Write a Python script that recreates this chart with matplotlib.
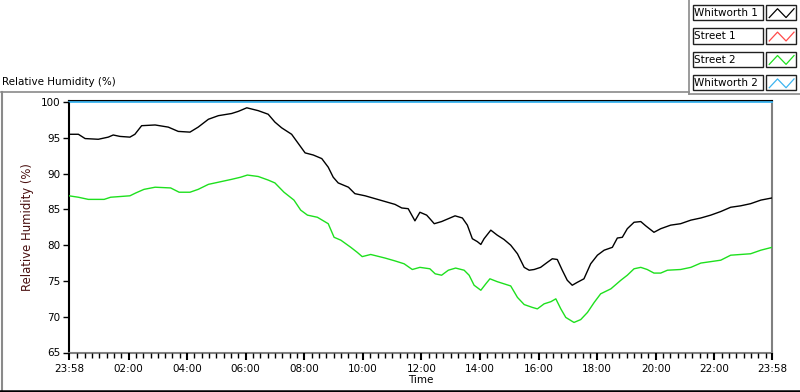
#!/usr/bin/env python3
"""Relative humidity chart (LabVIEW-style waveform chart) rebuilt in matplotlib."""

import matplotlib
matplotlib.use("Agg")
import matplotlib.pyplot as plt
from matplotlib.patches import Rectangle
from matplotlib.lines import Line2D

# hours elapsed since the 23:58 start of the record
whitworth1_t = [0.00, 0.32, 0.55, 1.00, 1.34, 1.51, 1.74, 2.08, 2.25, 2.48, 2.94, 3.39,
                3.73, 4.13, 4.41, 4.76, 5.10, 5.55, 5.78, 6.07, 6.46, 6.80, 7.03, 7.26,
                7.60, 7.83, 8.06, 8.34, 8.63, 8.85, 9.02, 9.19, 9.54, 9.76, 10.11, 10.45,
                10.79, 11.13, 11.36, 11.58, 11.81, 11.98, 12.21, 12.32, 12.47, 12.72,
                12.95, 13.18, 13.43, 13.60, 13.77, 13.94, 14.06, 14.17, 14.40, 14.62,
                14.85, 15.08, 15.31, 15.54, 15.71, 15.88, 16.10, 16.33, 16.50, 16.67,
                16.84, 17.01, 17.18, 17.35, 17.58, 17.81, 18.04, 18.27, 18.55, 18.72,
                18.89, 19.06, 19.29, 19.52, 19.69, 19.97, 20.20, 20.54, 20.88, 21.23,
                21.57, 21.91, 22.25, 22.59, 22.93, 23.27, 23.62, 24.00]
whitworth1_rh = [95.5, 95.5, 94.9, 94.8, 95.1, 95.4, 95.2, 95.1, 95.5, 96.7, 96.8, 96.5,
                 95.9, 95.8, 96.5, 97.6, 98.1, 98.4, 98.7, 99.2, 98.8, 98.3, 97.2, 96.4,
                 95.5, 94.2, 92.9, 92.6, 92.1, 90.9, 89.5, 88.7, 88.1, 87.2, 86.9, 86.5,
                 86.1, 85.7, 85.2, 85.1, 83.4, 84.6, 84.2, 83.7, 83.0, 83.3,
                 83.7, 84.1, 83.8, 82.8, 80.9, 80.5, 80.1, 80.9, 82.1, 81.4,
                 80.8, 80.0, 78.8, 76.9, 76.5, 76.6, 76.9, 77.6, 78.1, 78.0,
                 76.5, 75.1, 74.4, 74.8, 75.3, 77.4, 78.6, 79.3, 79.7, 81.0,
                 81.1, 82.3, 83.2, 83.3, 82.7, 81.8, 82.3, 82.8, 83.0, 83.5,
                 83.8, 84.2, 84.7, 85.3, 85.5, 85.8, 86.3, 86.6]

street2_t = [0.00, 0.32, 0.66, 1.20, 1.42, 2.08, 2.28, 2.56, 2.94, 3.47, 3.76, 4.13,
             4.41, 4.76, 5.10, 5.55, 5.86, 6.09, 6.46, 6.80, 7.03, 7.34, 7.68, 7.91,
             8.14, 8.48, 8.85, 9.05, 9.28, 9.62, 9.84, 10.01, 10.30, 10.79, 11.13,
             11.44, 11.72, 11.98, 12.32, 12.50, 12.72, 12.95, 13.20, 13.49, 13.66,
             13.83, 14.06, 14.23, 14.37, 14.62, 14.85, 15.08, 15.31, 15.54, 15.82,
             15.99, 16.22, 16.45, 16.62, 16.79, 16.96, 17.24, 17.47, 17.70, 17.93,
             18.15, 18.50, 18.84, 19.06, 19.29, 19.52, 19.74, 19.97, 20.20, 20.43,
             20.88, 21.23, 21.57, 21.91, 22.25, 22.59, 22.93, 23.27, 23.62, 24.00]
street2_rh = [86.9, 86.7, 86.4, 86.4, 86.7, 86.9, 87.3, 87.8, 88.1, 88.0, 87.4, 87.4,
              87.8, 88.5, 88.8, 89.2, 89.5, 89.8, 89.6, 89.1, 88.7, 87.4, 86.3, 84.9,
              84.2, 83.9, 83.0, 81.1, 80.7, 79.7, 79.0, 78.4, 78.7, 78.2, 77.8,
              77.4, 76.6, 76.9, 76.7, 76.0, 75.8, 76.5, 76.8, 76.5, 75.8,
              74.4, 73.7, 74.6, 75.3, 74.9, 74.6, 74.3, 72.7, 71.7, 71.3,
              71.1, 71.8, 72.1, 72.5, 71.1, 69.9, 69.2, 69.6, 70.6, 72.0,
              73.2, 73.9, 75.1, 75.8, 76.7, 76.9, 76.6, 76.1, 76.1, 76.5,
              76.6, 76.9, 77.5, 77.7, 77.9, 78.6, 78.7, 78.8, 79.3, 79.7]

whitworth2_t = [0.0, 6.0, 12.0, 18.0, 24.0]
whitworth2_rh = [100.0, 100.0, 100.0, 100.0, 100.0]

legend_names = ["Whitworth 1", "Street 1", "Street 2", "Whitworth 2"]
legend_colors = ["#000000", "#ff4a4a", "#1ee01e", "#3cb4f0"]

x_tick_labels = ["23:58", "02:00", "04:00", "06:00", "08:00", "10:00", "12:00",
                 "14:00", "16:00", "18:00", "20:00", "22:00", "23:58"]
y_ticks = [65, 70, 75, 80, 85, 90, 95, 100]

FONT = "DejaVu Sans"
FS = 7.5


def main() -> None:
    plt.rcParams.update({"font.family": FONT, "font.size": FS})
    fig = plt.figure(figsize=(8.0, 3.92), dpi=100)

    ax = fig.add_axes([69 / 800, 1 - 352.5 / 392, 703 / 800, 251.5 / 392])
    ax.plot(whitworth1_t, whitworth1_rh, color=legend_colors[0], lw=1.0)
    ax.plot(street2_t, street2_rh, color=legend_colors[2], lw=1.0)
    ax.plot(whitworth2_t, whitworth2_rh, color=legend_colors[3], lw=1.3, clip_on=False, zorder=1)

    ax.set_xlim(0, 24)
    ax.set_ylim(65, 100.15)

    offset = 2 / 60
    major = [0] + [h + offset for h in range(2, 24, 2)] + [24]
    ax.set_xticks(major)
    ax.set_xticklabels(x_tick_labels, fontsize=FS)
    ax.set_xticks([offset + 0.25 * k for k in range(1, 96) if k % 8 != 0], minor=True)
    ax.set_yticks(y_ticks)
    ax.set_yticklabels([str(v) for v in y_ticks], fontsize=FS)
    ax.tick_params(axis="x", which="major", length=5, width=1.5, pad=3, direction="out")
    ax.tick_params(axis="x", which="minor", length=3.5, width=1.0, direction="out")
    ax.tick_params(axis="y", which="major", length=4, width=1.0, pad=2, direction="out")

    for side, col in (("left", "black"), ("top", "black"), ("right", "#808080"), ("bottom", "#808080")):
        ax.spines[side].set_color(col)
        ax.spines[side].set_linewidth(1.5)
        ax.spines[side].set_zorder(0.5)

    ax.set_xlabel("Time", fontsize=FS, labelpad=1)
    ax.set_ylabel("Relative Humidity (%)", fontsize=8.4, color="#4a1010", labelpad=5)

    # overlay in pixel units for the panel frame and the plot legend
    ov = fig.add_axes([0, 0, 1, 1], zorder=-1)
    ov.set_xlim(0, 800)
    ov.set_ylim(392, 0)
    ov.axis("off")
    grey = "#8a8a8a"
    ov.add_line(Line2D([1, 689], [92, 92], color=grey, lw=1.2))
    ov.add_line(Line2D([1.5, 1.5], [92, 390], color=grey, lw=1.5))
    ov.add_line(Line2D([0, 800], [390.5, 390.5], color="black", lw=1.8))
    ov.add_line(Line2D([689, 689], [0, 94], color=grey, lw=1.2))
    ov.add_line(Line2D([689, 800], [94, 94], color=grey, lw=1.2))
    ov.text(2, 82, "Relative Humidity (%)", fontsize=FS, va="center", ha="left")

    leg = fig.add_axes([0, 0, 1, 1], zorder=3)
    leg.set_xlim(0, 800)
    leg.set_ylim(392, 0)
    leg.axis("off")
    for i, (name, col) in enumerate(zip(legend_names, legend_colors)):
        top = 4.7 + 23.4 * i
        h = 15.5
        leg.add_patch(Rectangle((692.5, top), 70, h, fill=False, ec="#202020", lw=1.0))
        leg.text(694.5, top + h / 2 + 0.5, name, fontsize=FS, va="center", ha="left")
        leg.add_patch(Rectangle((766, top), 29.5, h, fill=False, ec="#202020", lw=1.0))
        zx = [766 + 29.5 * f for f in (0.11, 0.39, 0.68, 0.95)]
        zy = [top + h * f for f in (0.83, 0.26, 0.83, 0.26)]
        leg.add_line(Line2D(zx, zy, color=col, lw=0.9))

    fig.savefig("out.png", dpi=100, facecolor="white")
    plt.close(fig)


if __name__ == "__main__":
    main()
